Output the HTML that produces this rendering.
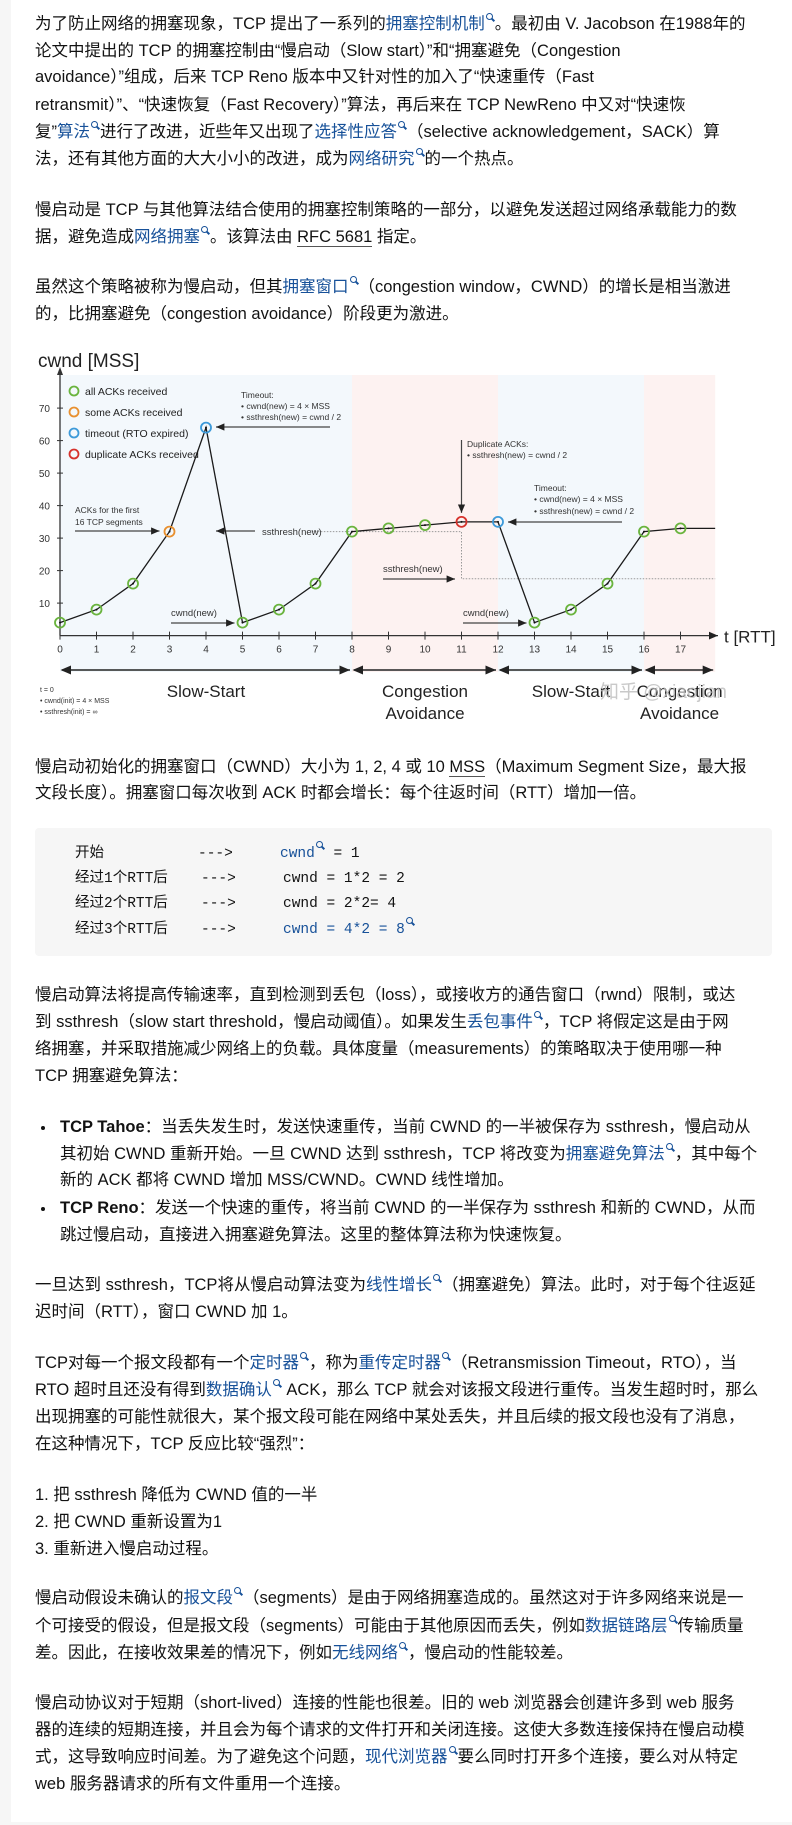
<!DOCTYPE html>
<html><head><meta charset="utf-8">
<style>
html,body{margin:0;padding:0}
body{width:792px;height:1825px;background:#f6f6f6;position:relative;overflow:hidden;font-family:"Liberation Sans","Noto Sans CJK SC",sans-serif;color:#121212}
#page{position:absolute;left:11px;top:0;width:781px;height:1822px;background:#fff}
.l{position:absolute;left:35px;height:27px;line-height:27px;font-size:16.5px;white-space:nowrap}
.a{color:#175199}
.q{display:inline-block;width:5px;height:5px;border:1.5px solid #175199;border-radius:50%;position:relative;top:-9px;margin-left:1px;margin-right:2px}
.q:after{content:"";position:absolute;width:1.5px;height:4px;background:#175199;left:5px;top:4px;transform:rotate(-45deg)}
.u{border-bottom:1px solid #555}
#code{position:absolute;left:35px;top:828px;width:737px;height:128px;background:#f6f6f6;border-radius:4px}
.c{position:absolute;font-family:"Liberation Mono","Noto Sans CJK SC",monospace;font-size:14.5px;line-height:20px;white-space:nowrap}
.b{position:absolute;left:41px;width:4px;height:4px;border-radius:50%;background:#121212}
svg text{font-family:"Liberation Sans Narrow","Liberation Sans",sans-serif}
</style></head><body>
<div id="page"></div>

<div class="l" style="top:11px">为了防止网络的拥塞现象，TCP 提出了一系列的<span class="a">拥塞控制机制</span><span class="q"></span>。最初由 V. Jacobson 在1988年的</div>
<div class="l" style="top:38px">论文中提出的 TCP 的拥塞控制由“慢启动（Slow start）”和“拥塞避免（Congestion</div>
<div class="l" style="top:64px">avoidance）”组成，后来 TCP Reno 版本中又针对性的加入了“快速重传（Fast</div>
<div class="l" style="top:92px">retransmit）”、“快速恢复（Fast Recovery）”算法，再后来在 TCP NewReno 中又对“快速恢</div>
<div class="l" style="top:119px">复”<span class="a">算法</span><span class="q"></span>进行了改进，近些年又出现了<span class="a">选择性应答</span><span class="q"></span>（selective acknowledgement，SACK）算</div>
<div class="l" style="top:146px">法，还有其他方面的大大小小的改进，成为<span class="a">网络研究</span><span class="q"></span>的一个热点。</div>

<div class="l" style="top:197px">慢启动是 TCP 与其他算法结合使用的拥塞控制策略的一部分，以避免发送超过网络承载能力的数</div>
<div class="l" style="top:224px">据，避免造成<span class="a">网络拥塞</span><span class="q"></span>。该算法由 <span class="u">RFC 5681</span> 指定。</div>

<div class="l" style="top:274px">虽然这个策略被称为慢启动，但其<span class="a">拥塞窗口</span><span class="q"></span>（congestion window，CWND）的增长是相当激进</div>
<div class="l" style="top:301px">的，比拥塞避免（congestion avoidance）阶段更为激进。</div>

<svg id="chart" style="position:absolute;left:0;top:330px" width="792" height="410" viewBox="0 0 792 410">
<defs>
<marker id="ah" markerWidth="8" markerHeight="8" refX="7" refY="4" orient="auto"><path d="M0,1 L7,4 L0,7 z" fill="#222"/></marker>
<marker id="ahs" markerWidth="8" markerHeight="8" refX="1" refY="4" orient="auto"><path d="M7,1 L0,4 L7,7 z" fill="#222"/></marker>
</defs>
<g id="bg"></g><g id="axes"></g><g id="ann"></g><g id="series"></g>
</svg>

<div class="l" style="top:754px">慢启动初始化的拥塞窗口（CWND）大小为 1, 2, 4 或 10 <span class="u">MSS</span>（Maximum Segment Size，最大报</div>
<div class="l" style="top:780px">文段长度）。拥塞窗口每次收到 ACK 时都会增长：每个往返时间（RTT）增加一倍。</div>

<div id="code">
<div class="c" style="left:40px;top:16px">开始</div><div class="c" style="left:163px;top:16px">---&gt;</div><div class="c" style="left:245px;top:16px"><span class="a">cwnd</span><span class="q"></span> = 1</div>
<div class="c" style="left:40px;top:41px">经过1个RTT后</div><div class="c" style="left:166px;top:41px">---&gt;</div><div class="c" style="left:248px;top:41px">cwnd = 1*2 = 2</div>
<div class="c" style="left:40px;top:66px">经过2个RTT后</div><div class="c" style="left:166px;top:66px">---&gt;</div><div class="c" style="left:248px;top:66px">cwnd = 2*2= 4</div>
<div class="c" style="left:40px;top:92px">经过3个RTT后</div><div class="c" style="left:166px;top:92px">---&gt;</div><div class="c" style="left:248px;top:92px"><span class="a">cwnd = 4*2 = 8</span><span class="q"></span></div>
</div>

<div class="l" style="top:982px">慢启动算法将提高传输速率，直到检测到丢包（loss），或接收方的通告窗口（rwnd）限制，或达</div>
<div class="l" style="top:1009px">到 ssthresh（slow start threshold，慢启动阈值）。如果发生<span class="a">丢包事件</span><span class="q"></span>，TCP 将假定这是由于网</div>
<div class="l" style="top:1036px">络拥塞，并采取措施减少网络上的负载。具体度量（measurements）的策略取决于使用哪一种</div>
<div class="l" style="top:1063px">TCP 拥塞避免算法：</div>

<div class="b" style="top:1126px"></div>
<div class="l" style="left:60px;top:1114px"><b>TCP Tahoe</b>：当丢失发生时，发送快速重传，当前 CWND 的一半被保存为 ssthresh，慢启动从</div>
<div class="l" style="left:60px;top:1141px">其初始 CWND 重新开始。一旦 CWND 达到 ssthresh，TCP 将改变为<span class="a">拥塞避免算法</span><span class="q"></span>，其中每个</div>
<div class="l" style="left:60px;top:1167px">新的 ACK 都将 CWND 增加 MSS/CWND。CWND 线性增加。</div>
<div class="b" style="top:1207px"></div>
<div class="l" style="left:60px;top:1195px"><b>TCP Reno</b>：发送一个快速的重传，将当前 CWND 的一半保存为 ssthresh 和新的 CWND，从而</div>
<div class="l" style="left:60px;top:1222px">跳过慢启动，直接进入拥塞避免算法。这里的整体算法称为快速恢复。</div>

<div class="l" style="top:1272px">一旦达到 ssthresh，TCP将从慢启动算法变为<span class="a">线性增长</span><span class="q"></span>（拥塞避免）算法。此时，对于每个往返延</div>
<div class="l" style="top:1299px">迟时间（RTT），窗口 CWND 加 1。</div>

<div class="l" style="top:1350px">TCP对每一个报文段都有一个<span class="a">定时器</span><span class="q"></span>，称为<span class="a">重传定时器</span><span class="q"></span>（Retransmission Timeout，RTO），当</div>
<div class="l" style="top:1377px">RTO 超时且还没有得到<span class="a">数据确认</span><span class="q"></span> ACK，那么 TCP 就会对该报文段进行重传。当发生超时时，那么</div>
<div class="l" style="top:1404px">出现拥塞的可能性就很大，某个报文段可能在网络中某处丢失，并且后续的报文段也没有了消息，</div>
<div class="l" style="top:1431px">在这种情况下，TCP 反应比较“强烈”：</div>

<div class="l" style="top:1482px">1. 把 ssthresh 降低为 CWND 值的一半</div>
<div class="l" style="top:1509px">2. 把 CWND 重新设置为1</div>
<div class="l" style="top:1536px">3. 重新进入慢启动过程。</div>

<div class="l" style="top:1585px">慢启动假设未确认的<span class="a">报文段</span><span class="q"></span>（segments）是由于网络拥塞造成的。虽然这对于许多网络来说是一</div>
<div class="l" style="top:1613px">个可接受的假设，但是报文段（segments）可能由于其他原因而丢失，例如<span class="a">数据链路层</span><span class="q"></span>传输质量</div>
<div class="l" style="top:1640px">差。因此，在接收效果差的情况下，例如<span class="a">无线网络</span><span class="q"></span>，慢启动的性能较差。</div>

<div class="l" style="top:1690px">慢启动协议对于短期（short-lived）连接的性能也很差。旧的 web 浏览器会创建许多到 web 服务</div>
<div class="l" style="top:1717px">器的连续的短期连接，并且会为每个请求的文件打开和关闭连接。这使大多数连接保持在慢启动模</div>
<div class="l" style="top:1744px">式，这导致响应时间差。为了避免这个问题，<span class="a">现代浏览器</span><span class="q"></span>要么同时打开多个连接，要么对从特定</div>
<div class="l" style="top:1771px">web 服务器请求的所有文件重用一个连接。</div>

<script>
const rtts = [0,1,2,3,4,5,6,7,8,9,10,11,12,13,14,15,16,17];
const cwnd = [4,8,16,32,64,4,8,16,32,33,34,35,35,4,8,16,32,33];
const ackType = ["all","all","all","some","timeout","all","all","all","all","all","all","dup","timeout","all","all","all","all","all"];
const yTicks = [10,20,30,40,50,60,70];
const phaseStarts = [0,8,12,16];
const phaseEnds = [8,12,16,17.95];
const phaseNames = [["Slow-Start"],["Congestion","Avoidance"],["Slow-Start"],["Congestion","Avoidance"]];
const tailEnd = 17.95;
const ssthresh1 = 32;
const ssthresh2 = 17.5;

const NS="http://www.w3.org/2000/svg";
const X=t=>60+36.5*t;
const Y=v=>305.6-3.25*v;
const colors={all:"#6ab43e",some:"#e8902f",timeout:"#3d9ad9",dup:"#d6322c"};
function mk(tag,attrs,parent,text){const e=document.createElementNS(NS,tag);for(const k in attrs)e.setAttribute(k,attrs[k]);if(text!==undefined)e.textContent=text;document.getElementById(parent).appendChild(e);return e;}

phaseStarts.forEach((s,i)=>{
  const r=mk("rect",{x:X(s),y:45,width:X(phaseEnds[i])-X(s),height:297,fill:i%2?"#fdf2f1":"#f3f8fc"},"bg");
  
  
});
mk("line",{x1:X(0),y1:Y(0),x2:X(0),y2:40,stroke:"#333","stroke-width":1.3},"axes");
mk("path",{d:`M${X(0)-3},45 L${X(0)},37 L${X(0)+3},45z`,fill:"#333"},"axes");
mk("line",{x1:X(0),y1:Y(0),x2:718,y2:Y(0),stroke:"#333","stroke-width":1.3,"marker-end":"url(#ah)"},"axes");
const ytitle=mk("text",{x:38,y:37,"font-size":19,fill:"#222"},"axes","cwnd [MSS]");


const xtitle=mk("text",{x:724,y:Y(0)+7,"font-size":17,fill:"#222"},"axes","t [RTT]");


yTicks.forEach(v=>{
  mk("line",{x1:X(0)-3,y1:Y(v),x2:X(0)+3,y2:Y(v),stroke:"#333"},"axes");
  const t=mk("text",{x:X(0)-10,y:Y(v)+4,"font-size":10,"text-anchor":"end",fill:"#333"},"axes",v);
  
  
});
rtts.forEach(r=>{
  mk("line",{x1:X(r),y1:Y(0)-4,x2:X(r),y2:Y(0)+4,stroke:"#333"},"axes");
  const t=mk("text",{x:X(r),y:Y(0)+17,"font-size":10,"text-anchor":"middle",fill:"#333"},"axes",r);
  
  
});
phaseStarts.forEach((s,i)=>{
  const a=mk("line",{x1:X(s)+2,y1:340,x2:X(phaseEnds[i])-2,y2:340,stroke:"#222","stroke-width":1.5,"marker-end":"url(#ah)","marker-start":"url(#ahs)"},"axes");
  
  
  const cx=(X(s)+X(phaseEnds[i]))/2;
  phaseNames[i].forEach((n,j)=>{
    const t=mk("text",{x:cx,y:367+j*22,"font-size":17,"text-anchor":"middle",fill:"#222"},"axes",n);
    
    
  });
});
mk("path",{d:`M${X(6.9)},${Y(ssthresh1)} L${X(11)},${Y(ssthresh1)} L${X(11)},${Y(ssthresh2)} L${X(tailEnd)},${Y(ssthresh2)}`,fill:"none",stroke:"#999","stroke-dasharray":"1.5,1.5","stroke-width":1},"ann");
function txt(x,y,s,size){mk("text",{x:x,y:y,"font-size":size||8.5,fill:"#333"},"ann",s);}
function arr(x1,y1,x2,y2){mk("line",{x1,y1,x2,y2,stroke:"#444","stroke-width":1.2,"marker-end":"url(#ah)"},"ann");}
txt(241,68,"Timeout:");txt(241,79,"• cwnd(new) = 4 × MSS");txt(241,90,"• ssthresh(new) = cwnd / 2");
arr(330,97,X(4)+10,97);
txt(75,183,"ACKs for the first");txt(75,195,"16 TCP segments");
arr(75,201,X(3)-10,201);
txt(262,205,"ssthresh(new)",9.5);arr(255,201,X(4)+10,201);
txt(467,117,"Duplicate ACKs:");txt(467,128,"• ssthresh(new) = cwnd / 2");
arr(X(11),110,X(11),Y(35)-9);
txt(534,161,"Timeout:");txt(534,172,"• cwnd(new) = 4 × MSS");txt(534,184,"• ssthresh(new) = cwnd / 2");
arr(622,192,X(12)+10,192);
txt(383,242,"ssthresh(new)",9.5);arr(383,249,455,249);
txt(171,286,"cwnd(new)",9.5);arr(171,293,X(5)-8,293);
txt(463,286,"cwnd(new)",9.5);arr(463,293,X(13)-8,293);
txt(40,362,"t = 0",7);txt(40,373,"• cwnd(init) = 4 × MSS",7);txt(40,384,"• ssthresh(init) = ∞",7);
mk("text",{x:600,y:368,"font-size":19,fill:"#bbb","fill-opacity":0.8,"font-family":"Noto Sans CJK SC,sans-serif"},"ann","知乎 @xiaojian");
const legNames=["all ACKs received","some ACKs received","timeout (RTO expired)","duplicate ACKs received"];
const legKeys=["all","some","timeout","dup"];
legKeys.forEach((k,i)=>{
  mk("circle",{cx:74,cy:61+i*21,r:4.5,fill:"none",stroke:colors[k],"stroke-width":1.8},"ann");
  const t=mk("text",{x:85,y:65+i*21,"font-size":10.5,fill:"#222"},"ann",legNames[i]);
  
  
});
let d=rtts.map((r,i)=>(i?"L":"M")+X(r)+","+Y(cwnd[i])).join(" ");
d+=` L${X(tailEnd)},${Y(cwnd[cwnd.length-1])}`;
const line=mk("path",{d:d,fill:"none",stroke:"#1a1a1a","stroke-width":1.3},"series");


rtts.forEach((r,i)=>{
  const c=mk("circle",{cx:X(r),cy:Y(cwnd[i]),r:5,fill:"none",stroke:colors[ackType[i]],"stroke-width":1.8},"series");
  
  
  mk("circle",{cx:X(r),cy:Y(cwnd[i]),r:1,fill:"#111"},"series");
});
</script>
</body></html>
